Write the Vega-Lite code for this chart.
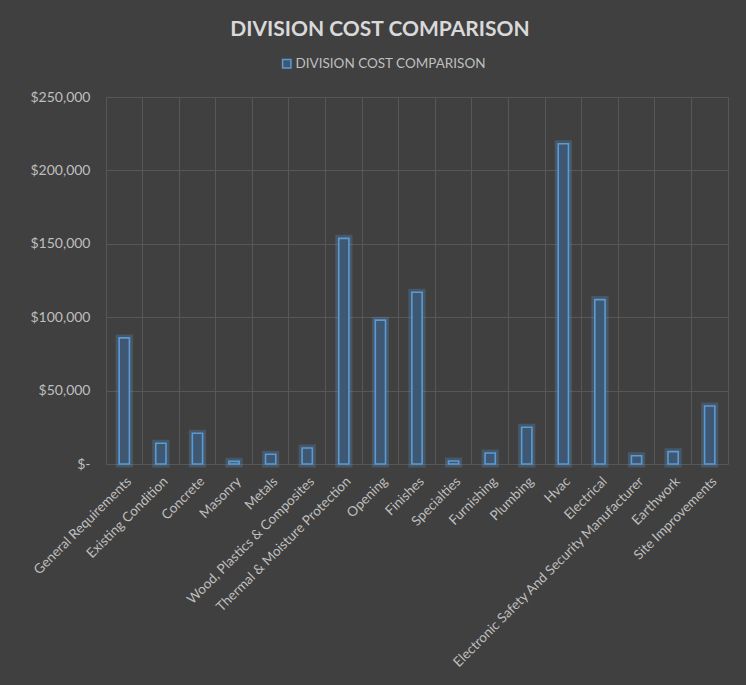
{
  "$schema": "https://vega.github.io/schema/vega-lite/v6.json",
  "width": 622,
  "height": 367,
  "autosize": {"type": "none"},
  "padding": {"left": 106, "top": 97, "right": 18, "bottom": 221},
  "background": "#404040",
  "title": {
    "text": "DIVISION COST COMPARISON",
    "font": "Lato",
    "fontSize": 21,
    "fontWeight": "bold",
    "color": "#d9d9d9",
    "anchor": "middle",
    "dx": -37,
    "offset": 17
  },
  "data": {
    "values": [
      {"division": "General Requirements", "cost": 85900},
      {"division": "Existing Condition", "cost": 14100},
      {"division": "Concrete", "cost": 20900},
      {"division": "Masonry", "cost": 1800},
      {"division": "Metals", "cost": 6600},
      {"division": "Wood, Plastics & Composites", "cost": 10900},
      {"division": "Thermal & Moisture Protection", "cost": 153700},
      {"division": "Opening", "cost": 98000},
      {"division": "Finishes", "cost": 117000},
      {"division": "Specialties", "cost": 2000},
      {"division": "Furnishing", "cost": 7500},
      {"division": "Plumbing", "cost": 25000},
      {"division": "Hvac", "cost": 218200},
      {"division": "Electrical", "cost": 112000},
      {"division": "Electronic Safety And Security Manufacturer", "cost": 5600},
      {"division": "Earthwork", "cost": 8400},
      {"division": "Site Improvements", "cost": 39500}
    ]
  },
  "config": {
    "view": {"stroke": "#575757", "strokeWidth": 1},
    "font": "Lato"
  },
  "resolve": {"axis": {"x": "independent"}},
  "layer": [
    {
      "mark": {"type": "bar", "width": {"band": 0.28}, "fill": null, "fillOpacity": 0, "stroke": "#5b9bd5", "strokeWidth": 7, "strokeOpacity": 0.25},
      "encoding": {
        "x": {
          "field": "division", "type": "nominal", "sort": null,
          "scale": {"paddingInner": 0, "paddingOuter": 0},
          "axis": {"orient": "bottom", "bandPosition": 0, "labels": false, "ticks": false, "domain": false, "grid": true, "gridColor": "#575757", "gridWidth": 1, "title": null}
        },
        "y": {
          "field": "cost", "type": "quantitative",
          "scale": {"domain": [0, 250000], "nice": false},
          "axis": {
            "values": [0, 50000, 100000, 150000, 200000, 250000],
            "labelExpr": "datum.value == 0 ? '$-' : format(datum.value, '$,')",
            "labelFontSize": 14, "labelColor": "#bfbfbf", "labelFont": "Lato",
            "labelPadding": 16, "ticks": false, "domain": false,
            "gridColor": "#575757", "gridWidth": 1, "title": null
          }
        }
      }
    },
    {
      "mark": {"type": "bar", "width": {"band": 0.28}, "fill": "#3e5873", "strokeWidth": 1.6},
      "encoding": {
        "x": {
          "field": "division", "type": "nominal", "sort": null,
          "axis": {"orient": "bottom", "labelAngle": -45, "labelFontSize": 13.5, "labelColor": "#bfbfbf", "labelFont": "Lato", "labelLimit": 400, "labelPadding": 10, "ticks": false, "domain": false, "grid": false, "title": null}
        },
        "y": {"field": "cost", "type": "quantitative"},
        "stroke": {
          "datum": "DIVISION COST COMPARISON",
          "scale": {"range": ["#5b9bd5"]},
          "legend": {
            "orient": "none", "legendX": 174, "legendY": -40, "title": null,
            "symbolType": "square", "symbolSize": 70, "symbolFillColor": "#404040", "symbolStrokeWidth": 1.5,
            "labelFontSize": 13.5, "labelColor": "#bfbfbf", "labelFont": "Lato", "labelOffset": 2, "labelLimit": 400
          }
        }
      }
    }
  ]
}
